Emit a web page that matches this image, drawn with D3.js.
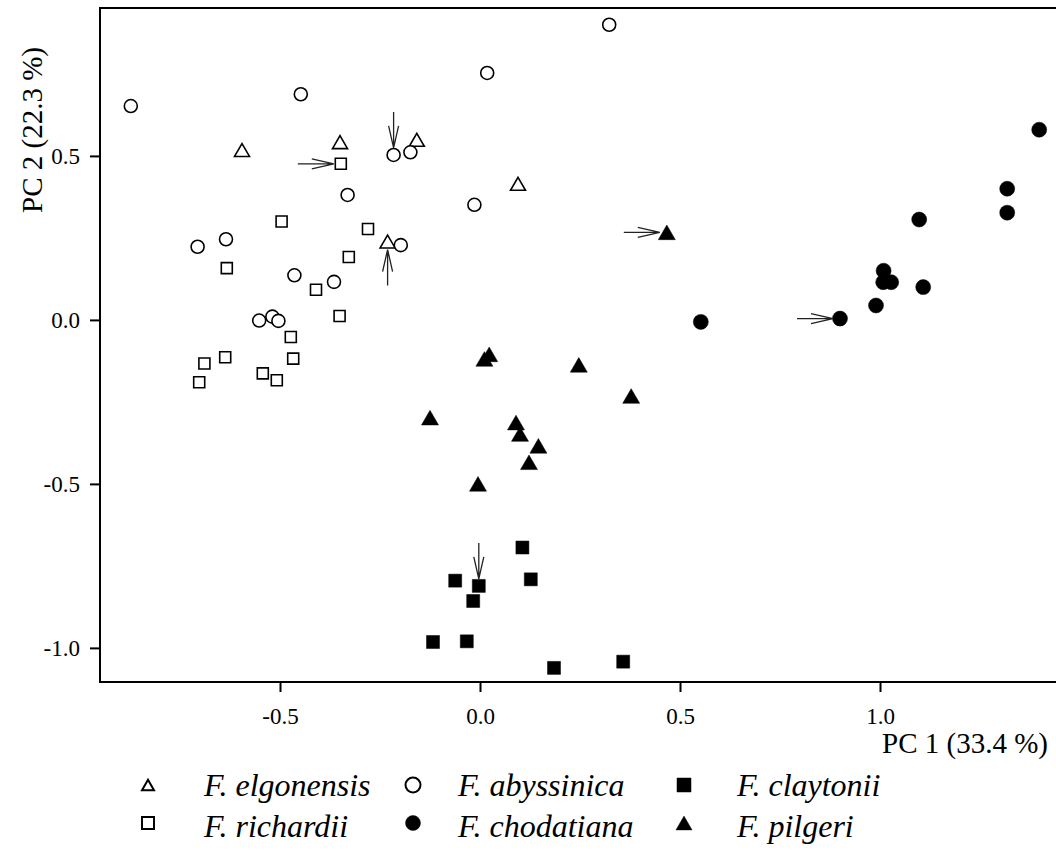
<!DOCTYPE html>
<html>
<head>
<meta charset="utf-8">
<script src="https://cdn.jsdelivr.net/npm/d3@7"></script>
<style>
  body { margin: 0; background: #fff; }
  svg { display: block; }
  text { font-family: "Liberation Serif", "Times New Roman", serif; fill: #000; }
</style>
</head>
<body>
<svg id="chart" width="1056" height="852"></svg>
<script>
// PC scores, [PC1, PC2]
var elgonensis = [[-0.595, 0.518], [-0.35, 0.542], [-0.158, 0.549], [0.095, 0.415], [-0.231, 0.239]];
var richardii = [[-0.348, 0.476], [-0.496, 0.300], [-0.28, 0.277], [-0.328, 0.192], [-0.633, 0.158],
  [-0.41, 0.092], [-0.351, 0.012], [-0.473, -0.052], [-0.467, -0.118], [-0.637, -0.114],
  [-0.689, -0.133], [-0.702, -0.190], [-0.543, -0.163], [-0.508, -0.184]];
var abyssinica = [[-0.873, 0.652], [-0.448, 0.688], [-0.216, 0.503], [-0.174, 0.511], [-0.331, 0.381],
  [-0.014, 0.351], [-0.706, 0.223], [-0.635, 0.246], [-0.464, 0.136], [-0.365, 0.116],
  [-0.552, -0.002], [-0.519, 0.010], [-0.504, -0.003], [-0.198, 0.228], [0.323, 0.900], [0.018, 0.753]];
var chodatiana = [[1.398, 0.580], [1.318, 0.400], [1.318, 0.327], [1.098, 0.306], [1.009, 0.150],
  [1.008, 0.115], [1.028, 0.115], [1.108, 0.100], [0.99, 0.044], [0.9, 0.004], [0.552, -0.006]];
var claytonii = [[0.106, -0.694], [-0.062, -0.795], [-0.003, -0.811], [0.127, -0.791], [-0.017, -0.857],
  [-0.1175, -0.982], [-0.033, -0.980], [0.185, -1.061], [0.358, -1.042]];
var pilgeri = [[0.467, 0.267], [0.011, -0.119], [0.023, -0.105], [0.247, -0.137], [0.378, -0.232],
  [-0.125, -0.298], [0.09, -0.313], [0.10, -0.348], [0.146, -0.384], [0.1225, -0.434], [-0.005, -0.5]];

var xTicks = [-0.5, 0.0, 0.5, 1.0];
var yTicks = [-1.0, -0.5, 0.0, 0.5];

// which points carry an arrow, and where the arrow comes from
var arrows = [
  { group: "richardii", i: 0, from: "left" },
  { group: "abyssinica", i: 2, from: "top" },
  { group: "elgonensis", i: 4, from: "bottom" },
  { group: "pilgeri", i: 0, from: "left" },
  { group: "chodatiana", i: 9, from: "left" },
  { group: "claytonii", i: 2, from: "top" }
];

var groups = [
  { key: "elgonensis", label: "F. elgonensis", data: elgonensis, shape: "triangle", filled: false },
  { key: "richardii", label: "F. richardii", data: richardii, shape: "square", filled: false },
  { key: "abyssinica", label: "F. abyssinica", data: abyssinica, shape: "circle", filled: false },
  { key: "chodatiana", label: "F. chodatiana", data: chodatiana, shape: "circle", filled: true },
  { key: "claytonii", label: "F. claytonii", data: claytonii, shape: "square", filled: true },
  { key: "pilgeri", label: "F. pilgeri", data: pilgeri, shape: "triangle", filled: true }
];

var svg = d3.select("#chart");
var mLeft = 100, mRight = 1056, mTop = 8, mBottom = 682;

var x = d3.scaleLinear().domain([-0.95, 1.44]).range([mLeft, mRight]);
var y = d3.scaleLinear().domain([-1.104, 0.951]).range([mBottom, mTop]);

var fmt = function(d) { return d.toFixed(1); };

// frame (right edge runs off the page like in the original)
svg.append("rect")
  .attr("x", mLeft).attr("y", mTop)
  .attr("width", mRight - mLeft + 20).attr("height", mBottom - mTop)
  .attr("fill", "none").attr("stroke", "#000").attr("stroke-width", 2);

var yAxis = svg.append("g")
  .attr("transform", "translate(" + mLeft + ",0)")
  .call(d3.axisLeft(y).tickValues(yTicks).tickFormat(fmt).tickSize(10).tickSizeOuter(0).tickPadding(10));
yAxis.select(".domain").remove();
yAxis.selectAll("line").attr("stroke-width", 2);
yAxis.selectAll("text").attr("font-size", 23).attr("font-family", "Liberation Serif").attr("dy", "0.33em");

var xAxis = svg.append("g")
  .attr("transform", "translate(0," + mBottom + ")")
  .call(d3.axisBottom(x).tickValues(xTicks).tickFormat(fmt).tickSize(10).tickSizeOuter(0).tickPadding(16));
xAxis.select(".domain").remove();
xAxis.selectAll("line").attr("stroke-width", 2);
xAxis.selectAll("text").attr("font-size", 23).attr("font-family", "Liberation Serif");

svg.append("text")
  .attr("transform", "translate(42,130) rotate(-90)")
  .attr("text-anchor", "middle")
  .attr("font-size", 29)
  .text("PC 2 (22.3 %)");

svg.append("text")
  .attr("x", 1048).attr("y", 753)
  .attr("text-anchor", "end")
  .attr("font-size", 29)
  .text("PC 1 (33.4 %)");

function shapePath(shape, s) {
  var h = s / 2;
  if (shape === "square") return "M" + (-h) + "," + (-h) + "h" + s + "v" + s + "h" + (-s) + "Z";
  if (shape === "triangle") {
    var th = s * 0.86;
    return "M0," + (-th / 2) + "L" + h + "," + (th / 2) + "L" + (-h) + "," + (th / 2) + "Z";
  }
  return d3.arc()({ innerRadius: 0, outerRadius: h, startAngle: 0, endAngle: 2 * Math.PI });
}

function markSize(g) {
  if (g.shape === "circle") return g.filled ? 15 : 13;
  if (g.shape === "square") return g.filled ? 13 : 11;
  return g.filled ? 17 : 15;
}

groups.forEach(function(g) {
  svg.append("g").attr("class", "pts " + g.key)
    .selectAll("path")
    .data(g.data)
    .enter().append("path")
      .attr("transform", function(d) { return "translate(" + x(d[0]) + "," + y(d[1]) + ")"; })
      .attr("d", shapePath(g.shape, markSize(g)))
      .attr("fill", g.filled ? "#000" : "#fff")
      .attr("stroke", "#000")
      .attr("stroke-width", g.filled ? 0.5 : 1.6);
});

// arrows
var byKey = {};
groups.forEach(function(g) { byKey[g.key] = g; });
var dirs = { left: [1, 0], right: [-1, 0], top: [0, 1], bottom: [0, -1] };
var gap = 7, len = 36, headLen = 22, headW = 5;

var arrowG = svg.append("g").attr("stroke", "#222").attr("stroke-width", 1.3).attr("fill", "none");
arrows.forEach(function(a) {
  var p = byKey[a.group].data[a.i];
  var v = dirs[a.from];
  var tipX = x(p[0]) - v[0] * gap, tipY = y(p[1]) - v[1] * gap;
  if (a.from === "bottom") tipY = y(p[1]) + 8;
  var tailX = tipX - v[0] * len, tailY = tipY - v[1] * len;
  var bx = tipX - v[0] * headLen, by = tipY - v[1] * headLen;
  var nx = -v[1], ny = v[0];
  arrowG.append("path")
    .attr("d", "M" + tailX + "," + tailY + "L" + tipX + "," + tipY +
      "M" + (bx + nx * headW) + "," + (by + ny * headW) + "L" + tipX + "," + tipY +
      "L" + (bx - nx * headW) + "," + (by - ny * headW));
});

// legend
var legendPos = [
  { sx: 148, tx: 204, sy: 785, ty: 796 },
  { sx: 148, tx: 204, sy: 823, ty: 837 },
  { sx: 413, tx: 458, sy: 785, ty: 796 },
  { sx: 413, tx: 458, sy: 823, ty: 837 },
  { sx: 684, tx: 737, sy: 785, ty: 796 },
  { sx: 684, tx: 737, sy: 823, ty: 837 }
];
var legendSize = [12, 12, 15, 15, 14, 16];

var legend = svg.append("g").attr("class", "legend");
groups.forEach(function(g, i) {
  var pos = legendPos[i];
  legend.append("path")
    .attr("transform", "translate(" + pos.sx + "," + pos.sy + ")")
    .attr("d", shapePath(g.shape, legendSize[i]))
    .attr("fill", g.filled ? "#000" : "#fff")
    .attr("stroke", "#000")
    .attr("stroke-width", g.filled ? 0.5 : 2);
  legend.append("text")
    .attr("x", pos.tx).attr("y", pos.ty)
    .attr("font-size", 32)
    .attr("font-style", "italic")
    .text(g.label);
});
</script>
</body>
</html>
